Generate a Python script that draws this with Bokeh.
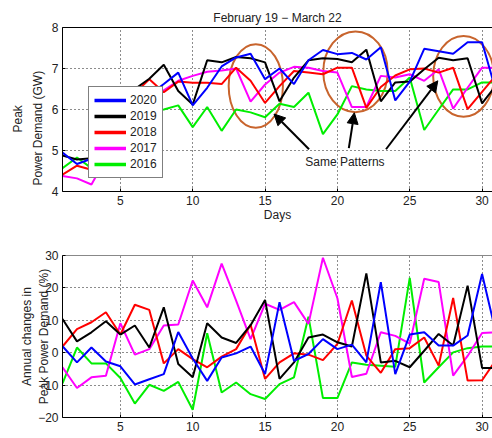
from bokeh.plotting import figure
from bokeh.models import (Legend, LegendItem, LinearAxis, Arrow, NormalHead, Label,
                          FixedTicker, Range1d, Title)
from bokeh.layouts import column
from bokeh.embed import file_html
from bokeh.resources import INLINE

days = list(range(1, 32))
years = ["2020", "2019", "2018", "2017", "2016"]
colors = ["#0000ff", "#000000", "#ff0000", "#ff00ff", "#00ee00"]

# Peak power demand (GW)
peak_2020 = [4.95, 4.67, 4.8, 5.3, 5.9, 6.3, 6.35, 6.62, 6.9, 6.1, 6.53, 7.05, 7.27, 7.36, 6.74, 7.0,
             6.62, 7.2, 7.45, 7.35, 7.38, 7.22, 7.52, 6.22, 6.68, 7.48, 7.42, 7.36, 7.64, 7.64, 6.4]
peak_2019 = [4.88, 4.78, 4.81, 5.6, 6.4, 6.5, 6.75, 7.09, 6.45, 6.12, 7.2, 7.15, 7.28, 7.25, 7.15, 6.2,
             6.78, 7.2, 7.25, 7.23, 7.15, 7.46, 6.2, 6.66, 6.68, 6.98, 7.26, 7.2, 7.25, 6.15, 6.6]
peak_2018 = [4.41, 4.63, 4.53, 5.0, 5.8, 6.4, 6.74, 6.42, 6.68, 6.65, 6.65, 6.62, 7.02, 6.7, 6.16, 6.57,
             6.94, 6.9, 6.86, 7.02, 7.02, 6.04, 6.55, 6.83, 6.98, 7.0, 6.9, 7.02, 6.01, 6.43, 6.85]
peak_2017 = [4.38, 4.32, 4.17, 4.8, 5.4, 5.9, 6.2, 6.47, 6.7, 6.82, 6.92, 6.95, 7.0, 6.19, 6.61, 6.9,
             7.04, 7.02, 6.94, 6.9, 6.06, 6.06, 6.82, 6.78, 6.86, 6.7, 6.98, 6.02, 6.53, 7.02, 7.02]
peak_2016 = [4.57, 4.83, 4.57, 5.0, 5.4, 5.7, 5.95, 6.0, 6.1, 5.57, 6.06, 5.48, 6.0, 5.93, 5.81, 6.14,
             6.06, 6.41, 5.4, 5.88, 6.57, 6.49, 6.45, 6.45, 6.78, 5.5, 6.0, 6.49, 6.49, 6.66, 6.66]

# Annual changes in peak power demand (%)
change_2020 = [2.0, -3.0, 1.6, -2.7, -4.2, -9.8, -8.2, -6.6, 6.4, -1.8, -8.7, -1.5, -0.2, 1.9, -6.6, 15.6,
               -2.5, -0.4, 4.2, 1.1, 2.5, -3.0, 21.8, -6.6, 5.6, 6.3, 2.2, 2.2, 5.3, 24.3, 5.3]
change_2019 = [10.4, 3.5, 6.3, 9.7, 5.6, 8.4, 1.6, 14.0, -3.5, -7.6, 9.1, 4.7, 3.0, 8.5, 16.3, -8.1,
               -3.0, 4.7, 5.6, 3.2, 1.9, 24.5, -3.0, -2.5, -4.5, 0.6, 5.8, 2.2, 20.7, -4.7, -4.7]
change_2018 = [1.9, 7.3, 9.4, 12.5, 5.6, 14.8, 13.2, -3.3, 1.1, -2.0, -4.5, -1.2, 1.1, 8.6, -8.1, -3.0,
               -0.2, -0.6, -2.3, 2.7, 16.1, -0.9, -6.2, 1.1, 1.4, 4.7, -4.0, 16.9, -8.6, -8.5, -2.0]
change_2017 = [-4.5, -10.9, -7.6, -7.1, 9.1, -0.6, 1.1, 8.4, 8.7, 22.3, 14.0, 27.5, 16.1, 4.2, 15.1, 13.2,
               15.6, 8.9, 29.3, 16.8, -7.5, -6.5, 6.3, 5.2, 2.8, 22.8, 21.8, -7.1, -1.0, 6.1, 6.3]
change_2016 = [-9.5, 1.6, -3.3, -3.3, -7.8, -15.7, -9.9, -11.8, -9.0, -17.6, 6.0, -12.3, -9.2, -12.8, -14.3, -9.7,
               -7.6, 11.1, -14.0, -14.0, -3.0, -3.7, -4.0, -4.3, 23.1, -9.2, -4.5, 0.1, 1.4, 1.9, 1.9]

x_ticks = [5, 10, 15, 20, 25, 30]
peak_ticks = [4, 5, 6, 7, 8]
change_ticks = [-20, -10, 0, 10, 20, 30]

# annotation: ellipses (day centre, GW centre, width days, height GW)
ell_x = [14.36, 21.25, 28.72]
ell_y = [6.575, 6.92, 6.81]
ell_w = [3.75, 4.45, 4.2]
ell_h = [2.04, 1.97, 1.97]
# arrows (start day, start GW, end day, end GW)
arr_x0 = [18.04, 20.79, 23.36]
arr_y0 = [5.03, 5.06, 5.03]
arr_x1 = [15.62, 21.17, 26.94]
arr_y1 = [5.89, 5.92, 6.70]

peaks = [peak_2020, peak_2019, peak_2018, peak_2017, peak_2016]
changes = [change_2020, change_2019, change_2018, change_2017, change_2016]

FONT = "Liberation Sans"
TXT = "#222222"


def style(p, yticks, top_color):
    p.xaxis.ticker = FixedTicker(ticks=x_ticks)
    p.yaxis.ticker = FixedTicker(ticks=yticks)
    for ax in [p.xaxis[0], p.yaxis[0]]:
        ax.major_label_text_font = FONT
        ax.major_label_text_font_size = "12px"
        ax.major_label_text_color = TXT
        ax.axis_label_text_font = FONT
        ax.axis_label_text_font_size = "12px"
        ax.axis_label_text_font_style = "normal"
        ax.axis_label_text_color = TXT
        ax.major_tick_in = 3
        ax.major_tick_out = 0
        ax.minor_tick_line_color = None
        ax.major_label_standoff = 4
        ax.axis_line_color = "black"
        ax.major_tick_line_color = "black"
    for g in [p.xgrid[0], p.ygrid[0]]:
        g.grid_line_color = "black"
        g.grid_line_dash = "1 3"
        g.grid_line_alpha = 0.9
    top = LinearAxis(ticker=FixedTicker(ticks=[]), major_label_text_font_size="0px",
                     major_tick_line_color=None, minor_tick_line_color=None,
                     axis_line_color=top_color, major_label_standoff=0)
    p.add_layout(top, "above")
    p.outline_line_color = None
    p.background_fill_color = "white"
    p.border_fill_color = "white"


# ---------- top plot ----------
p1 = figure(frame_width=430, frame_height=164, min_border_left=62, min_border_right=0,
            min_border_top=27, min_border_bottom=31,
            x_range=Range1d(1, 30.72), y_range=Range1d(4, 8),
            output_backend="svg", toolbar_location=None,
            title="February 19 \u2212 March 22",
            x_axis_label="Days")
p1.title.align = "center"
p1.title.text_font = FONT
p1.title.text_font_size = "12px"
p1.title.text_font_style = "normal"
p1.title.text_color = TXT
p1.title.standoff = 6
style(p1, peak_ticks, "black")
p1.xaxis.axis_label_standoff = 0

# two-line y label, placed a little below the frame centre as in the original
for txt, off, so in [("Power Demand (GW)", 6, 7), ("Peak", 59, 2)]:
    p1.add_layout(Title(text=txt, align="left", offset=off, standoff=so,
                        text_font=FONT, text_font_size="12px", text_font_style="normal",
                        text_color=TXT), "left")

# ellipses
p1.ellipse(x=ell_x, y=ell_y, width=ell_w, height=ell_h, fill_color=None,
           line_color="#c8642d", line_width=2)

for yr, col, vals in zip(years[::-1], colors[::-1], peaks[::-1]):
    p1.line(days, vals, line_color=col, line_width=2)

# legend-only renderers (thicker lines, placed outside the visible range)
legend_items = []
for yr, col in zip(years, colors):
    dummy = p1.line(x=[-10, -9], y=[0, 0], line_color=col, line_width=3.5)
    legend_items.append(LegendItem(label=yr, renderers=[dummy]))

for x0, y0, x1, y1 in zip(arr_x0, arr_y0, arr_x1, arr_y1):
    p1.add_layout(Arrow(x_start=x0, y_start=y0, x_end=x1, y_end=y1, line_width=2,
                        line_color="black",
                        end=NormalHead(size=11, fill_color="black", line_color="black")))

p1.add_layout(Label(x=20.52, y=4.73, text="Same Patterns", text_align="center",
                    text_baseline="middle", text_font=FONT, text_font_size="12px",
                    text_color=TXT))

legend = Legend(items=legend_items, location=(26, 13), orientation="vertical",
                label_text_font=FONT, label_text_font_size="12px", label_text_color=TXT,
                glyph_width=32, glyph_height=16, label_height=16, label_standoff=4,
                spacing=0, padding=5, margin=0, border_line_color="black",
                border_line_width=1, background_fill_color="white", background_fill_alpha=1)
p1.add_layout(legend, "center")

# ---------- bottom plot ----------
p2 = figure(frame_width=430, frame_height=162, min_border_left=62, min_border_right=0,
            min_border_top=31, min_border_bottom=23,
            x_range=Range1d(1, 30.72), y_range=Range1d(-20, 30),
            output_backend="svg", toolbar_location=None,
            y_axis_label="Annual changes in\nPeak Power Demand (%)")
style(p2, change_ticks, "#888888")
p2.yaxis.axis_label_standoff = -16

for yr, col, vals in zip(years[::-1], colors[::-1], changes[::-1]):
    p2.line(days, vals, line_color=col, line_width=2)

layout = column(p1, p2, spacing=0)
open("out.html", "w").write(file_html(layout, INLINE))
